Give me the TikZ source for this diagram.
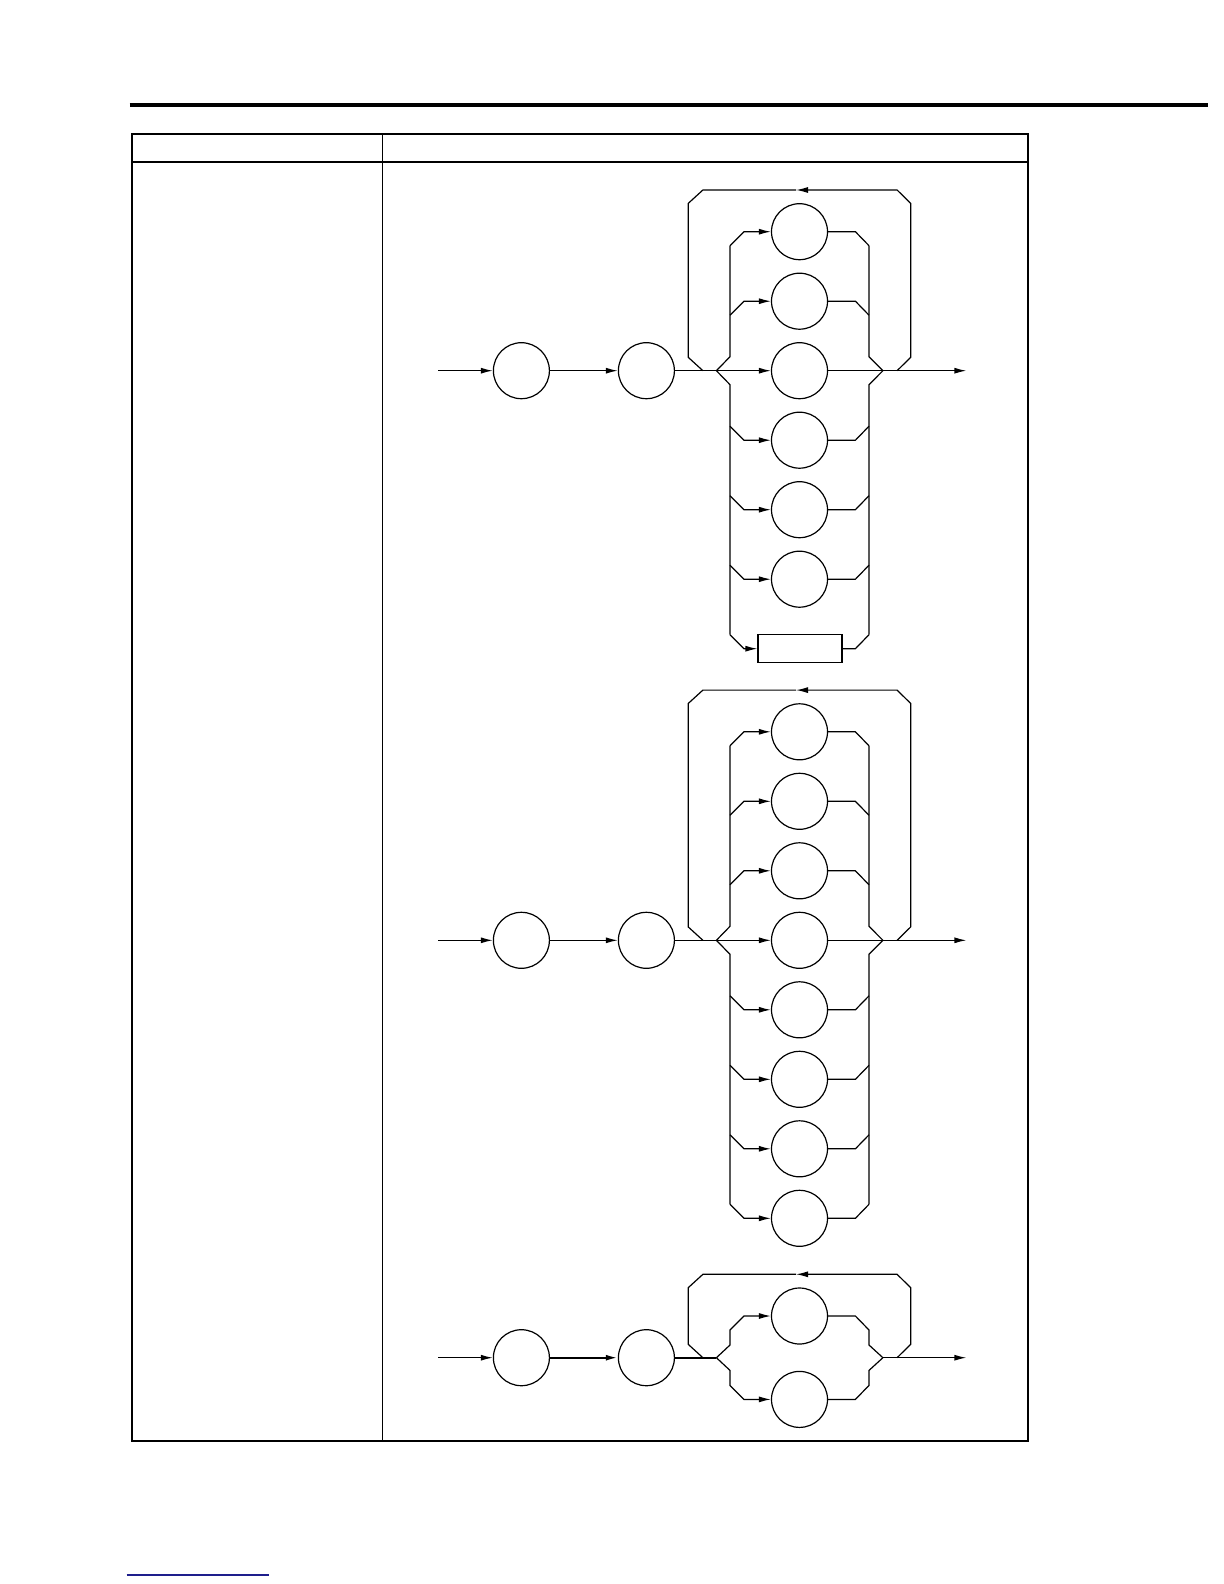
\documentclass[tikz,border=0pt]{standalone}
\usetikzlibrary{arrows.meta}
\definecolor{linkblue}{RGB}{30,30,140}
\tikzset{
  ln/.style={line width=0.6pt,line join=miter},
  arr/.style={ln,-{Latex[length=6pt,width=3pt]}},
  bub/.style={circle,draw,line width=0.6pt,minimum size=28pt,inner sep=0pt},
  boxnode/.style={rectangle,draw,line width=0.6pt,minimum width=42pt,minimum height=14pt,inner sep=0pt},
  frame/.style={line width=1pt},
}
\begin{document}
\begin{tikzpicture}[x=0.5pt,y=-0.5pt]
\useasboundingbox (0,0) rectangle (1224,1584);
\fill[white] (0,0) rectangle (1224,1584);
% top rule
\draw[line width=2pt] (129.5,104.7) -- (1207.5,104.7);
% table
\draw[frame] (132.3,133.7) rectangle (1028,1441);
\draw[frame] (132.3,161.7) -- (1028,161.7);
\draw[line width=0.7pt] (382.7,133.7) -- (382.7,1441);
% bottom link underline
\draw[linkblue,line width=0.8pt] (126.7,1574.7) -- (269,1574.7);

% ================= Diagram 1 =================
\def\M{370.7}
\pgfmathsetmacro\T{\M-180.7}
\node[bub] (d1a) at (521.4,\M) {};
\node[bub] (d1b) at (646.4,\M) {};
\coordinate (d1s) at (438,\M);
\coordinate (d1j) at (716.4,\M);
\coordinate (d1k) at (882.9,\M);
\coordinate (d1e) at (966.4,\M);
\coordinate (d1l) at (702.9,\M);
\coordinate (d1r) at (897.1,\M);
\coordinate (d1t) at (796,\T);
\draw[arr] (d1s) -- (d1a);
\draw[arr] (d1a) -- (d1b);
\draw[ln] (d1b) -- (d1j);
\draw[arr] (d1k) -- (d1e);
\node[bub] (d1c0) at (799.5,\M) {};
\draw[arr] (d1j) -- (d1c0);
\draw[ln] (d1c0) -- (d1k);
% loop
\draw[arr] (d1r) -- (910.7,\M-13.4) -- (910.7,\T+13.4) -- (897.1,\T) -- (d1t);
\draw[ln] (d1t) -- (702.9,\T) -- (688.2,\T+13.4) -- (688.2,\M-13.4) -- (d1l);
% branches
\foreach \k/\s in {-2/-1,-1/-1,1/1,2/1,3/1}{
  \pgfmathsetmacro\yy{\M+\k*69.5}
  \node[bub] (d1c\k) at (799.5,\yy) {};
  \coordinate (d1p\k) at (730,{\yy-\s*14});
  \coordinate (d1q\k) at (869,{\yy-\s*14});
  \draw[arr] (d1p\k) -- (744,\yy) -- (d1c\k);
  \draw[ln] (d1c\k) -- (855.4,\yy) -- (d1q\k);
}
\pgfmathsetmacro\yb{\M+4*69.5}
\node[boxnode] (d1box) at (800,\yb) {};
\coordinate (d1p4) at (730,\yb-14);
\coordinate (d1q4) at (869,\yb-14);
\draw[arr] (d1p4) -- (744,\yb) -- (d1box);
\draw[ln] (d1box) -- (855.4,\yb) -- (d1q4);
% verticals
\draw[ln] (d1p-2) -- (730,\M-14) -- (d1j) -- (730,\M+14) -- (d1p4);
\draw[ln] (d1q-2) -- (869,\M-14) -- (d1k) -- (869,\M+14) -- (d1q4);

% ================= Diagram 2 =================
\def\M{940.3}
\pgfmathsetmacro\T{\M-250.2}
\node[bub] (d2a) at (521.4,\M) {};
\node[bub] (d2b) at (646.4,\M) {};
\coordinate (d2s) at (438,\M);
\coordinate (d2j) at (716.4,\M);
\coordinate (d2k) at (882.9,\M);
\coordinate (d2e) at (966.4,\M);
\coordinate (d2l) at (702.9,\M);
\coordinate (d2r) at (897.1,\M);
\coordinate (d2t) at (796,\T);
\draw[arr] (d2s) -- (d2a);
\draw[arr] (d2a) -- (d2b);
\draw[ln] (d2b) -- (d2j);
\draw[arr] (d2k) -- (d2e);
\node[bub] (d2c0) at (799.5,\M) {};
\draw[arr] (d2j) -- (d2c0);
\draw[ln] (d2c0) -- (d2k);
\draw[arr] (d2r) -- (910.7,\M-13.4) -- (910.7,\T+13.4) -- (897.1,\T) -- (d2t);
\draw[ln] (d2t) -- (702.9,\T) -- (688.2,\T+13.4) -- (688.2,\M-13.4) -- (d2l);
\foreach \k/\s in {-3/-1,-2/-1,-1/-1,1/1,2/1,3/1,4/1}{
  \pgfmathsetmacro\yy{\M+\k*69.5}
  \node[bub] (d2c\k) at (799.5,\yy) {};
  \coordinate (d2p\k) at (730,{\yy-\s*14});
  \coordinate (d2q\k) at (869,{\yy-\s*14});
  \draw[arr] (d2p\k) -- (744,\yy) -- (d2c\k);
  \draw[ln] (d2c\k) -- (855.4,\yy) -- (d2q\k);
}
\draw[ln] (d2p-3) -- (730,\M-14) -- (d2j) -- (730,\M+14) -- (d2p4);
\draw[ln] (d2q-3) -- (869,\M-14) -- (d2k) -- (869,\M+14) -- (d2q4);

% ================= Diagram 3 =================
\def\M{1357.7}
\pgfmathsetmacro\T{\M-83.4}
\pgfmathsetmacro\yu{\M-41.7}
\pgfmathsetmacro\yd{\M+41.7}
\node[bub] (d3a) at (521.4,\M) {};
\node[bub] (d3b) at (646.4,\M) {};
\coordinate (d3s) at (438,\M);
\coordinate (d3j) at (716.4,\M);
\coordinate (d3k) at (882.9,\M);
\coordinate (d3e) at (966.4,\M);
\coordinate (d3l) at (702.9,\M);
\coordinate (d3r) at (897.1,\M);
\coordinate (d3t) at (796,\T);
\draw[arr] (d3s) -- (d3a);
\draw[arr,line width=1pt] (d3a) -- (d3b);
\draw[ln,line width=1pt] (d3b) -- (d3j);
\draw[arr] (d3k) -- (d3e);
\draw[arr] (d3r) -- (910.7,\M-13.4) -- (910.7,\T+13.4) -- (897.1,\T) -- (d3t);
\draw[ln] (d3t) -- (702.9,\T) -- (688.2,\T+13.4) -- (688.2,\M-13.4) -- (d3l);
\node[bub] (d3u) at (799.5,\yu) {};
\node[bub] (d3d) at (799.5,\yd) {};
\draw[arr] (d3j) -- (730,\M-12.7) -- (730,\M-27.7) -- (744,\yu) -- (d3u);
\draw[arr] (d3j) -- (730,\M+12.7) -- (730,\M+27.7) -- (744,\yd) -- (d3d);
\draw[ln] (d3u) -- (855.4,\yu) -- (869,\M-27.7) -- (869,\M-12.7) -- (d3k);
\draw[ln] (d3d) -- (855.4,\yd) -- (869,\M+27.7) -- (869,\M+12.7) -- (d3k);
\end{tikzpicture}
\end{document}
